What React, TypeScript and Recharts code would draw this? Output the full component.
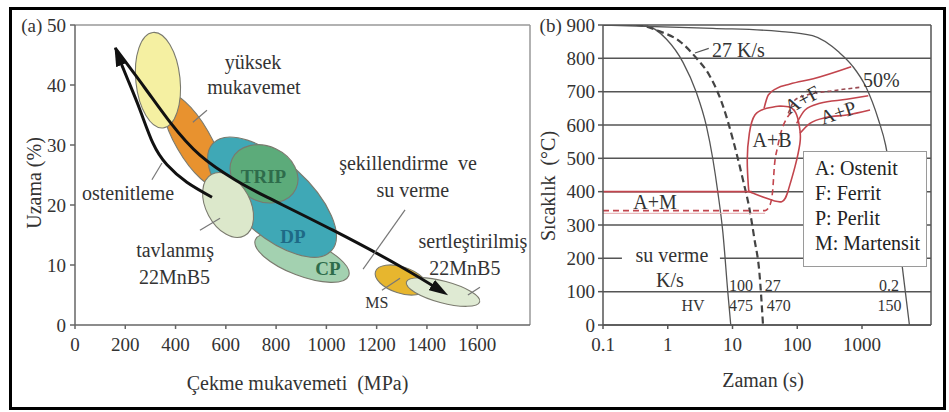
import React from 'react';
import {
  ComposedChart,
  XAxis,
  YAxis,
  Line,
  Scatter,
  ReferenceLine,
  CartesianGrid,
  Legend,
} from 'recharts';

const FONT = '"Liberation Serif", "Times New Roman", serif';
const H = 412;

// ---------- panel (a): elongation vs tensile strength ----------
const strengthTicks = [0, 200, 400, 600, 800, 1000, 1200, 1400, 1600];
const elongationTicks = [0, 10, 20, 30, 40, 50];
const A_X_MAX = 1810;

// steel families: centre (MPa, %), half spread (MPa, %), tilt in degrees
const steelFamilies = [
  { id: 'hsla', x: 469, y: 30.8, dx: 70, dy: 8.8, tilt: -30 },
  { id: 'mild', x: 330, y: 40.8, dx: 88, dy: 8.0, tilt: -6 },
  { id: 'cp', x: 903, y: 11.2, dx: 199, dy: 3.0, tilt: 21 },
  { id: 'dp', x: 784, y: 21.3, dx: 318, dy: 6.1, tilt: 42 },
  { id: 'trip', x: 752, y: 25.2, dx: 140, dy: 4.6, tilt: 25 },
  { id: 'annealed', x: 609, y: 20.0, dx: 88, dy: 5.8, tilt: -28 },
  { id: 'ms', x: 1297, y: 7.5, dx: 107, dy: 2.2, tilt: 18 },
  { id: 'hardened', x: 1464, y: 5.5, dx: 151, dy: 1.8, tilt: 15 },
];

// şekillendirme ve su verme
const formingPath = [
  { x: 159, y: 46.2 },
  { x: 278, y: 39.5 },
  { x: 378, y: 33.8 },
  { x: 497, y: 28.3 },
  { x: 636, y: 24.2 },
  { x: 764, y: 21.3 },
  { x: 1026, y: 15.8 },
  { x: 1293, y: 9.8 },
  { x: 1460, y: 5.6 },
];

// ostenitleme
const austenitizingPath = [
  { x: 545, y: 21.3 },
  { x: 445, y: 23.8 },
  { x: 366, y: 26.7 },
  { x: 310, y: 30.3 },
  { x: 259, y: 35.8 },
  { x: 211, y: 40.8 },
  { x: 168, y: 45.2 },
];

const leadersA = [
  [{ x: 469, y: 33.8 }, { x: 525, y: 35.8 }],
  [{ x: 306, y: 24.2 }, { x: 346, y: 27.0 }],
  [{ x: 497, y: 15.8 }, { x: 577, y: 17.8 }],
  [{ x: 1146, y: 9.3 }, { x: 1313, y: 19.2 }],
  [{ x: 1221, y: 5.8 }, { x: 1293, y: 7.8 }],
  [{ x: 1563, y: 5.0 }, { x: 1611, y: 6.3 }],
];

const labelsA = [
  { x: 708, y: 43.8, text: 'yüksek', kind: 'plain' },
  { x: 712, y: 39.7, text: 'mukavemet', kind: 'plain' },
  { x: 211, y: 22.0, text: 'ostenitleme', kind: 'plain' },
  { x: 750, y: 24.7, text: 'TRIP', kind: 'trip' },
  { x: 867, y: 14.7, text: 'DP', kind: 'dp' },
  { x: 1006, y: 9.5, text: 'CP', kind: 'cp' },
  { x: 398, y: 12.5, text: 'tavlanmış', kind: 'plain' },
  { x: 396, y: 8.0, text: '22MnB5', kind: 'plain' },
  { x: 1325, y: 27.0, text: 'şekillendirme  ve', kind: 'plain' },
  { x: 1344, y: 22.5, text: 'su verme', kind: 'plain' },
  { x: 1201, y: 3.7, text: 'MS', kind: 'small' },
  { x: 1583, y: 14.0, text: 'sertleştirilmiş', kind: 'plain' },
  { x: 1551, y: 9.5, text: '22MnB5', kind: 'plain' },
];

// ---------- panel (b): CCT diagram ----------
const timeTicks = [0.1, 1, 10, 100, 1000];
const tempTicks = [0, 100, 200, 300, 400, 500, 600, 700, 800, 900];
const B_X_MAX = 11630;

const cool100 = [
  { t: 0.1, temp: 900 }, { t: 0.23, temp: 900 }, { t: 0.47, temp: 897 },
  { t: 0.95, temp: 858 }, { t: 1.72, temp: 788 }, { t: 2.76, temp: 698 },
  { t: 3.94, temp: 598 }, { t: 4.97, temp: 498 }, { t: 5.94, temp: 398 },
  { t: 7.1, temp: 278 }, { t: 8.47, temp: 98 }, { t: 9.4, temp: 0 },
];
const cool27 = [
  { t: 0.1, temp: 900 }, { t: 0.33, temp: 900 }, { t: 0.75, temp: 881 },
  { t: 1.53, temp: 851 }, { t: 2.76, temp: 801 }, { t: 4.43, temp: 748 },
  { t: 7.1, temp: 658 }, { t: 10.1, temp: 558 }, { t: 14.4, temp: 438 },
  { t: 18.3, temp: 348 }, { t: 21.8, temp: 258 }, { t: 26, temp: 158 },
  { t: 29.6, temp: 0 },
];
const cool02 = [
  { t: 0.1, temp: 900 }, { t: 4.97, temp: 890 }, { t: 52.8, temp: 881 },
  { t: 172, temp: 868 }, { t: 443, temp: 818 }, { t: 720, temp: 776 },
  { t: 1137, temp: 716 }, { t: 1800, temp: 615 }, { t: 2313, temp: 540 },
  { t: 2930, temp: 418 }, { t: 3710, temp: 258 }, { t: 4500, temp: 125 },
  { t: 5400, temp: 0 },
];
const ferriteStart = [
  { t: 30.7, temp: 650 }, { t: 35.7, temp: 690 }, { t: 48.2, temp: 710 },
  { t: 77.3, temp: 723 }, { t: 177, temp: 739 }, { t: 680, temp: 775 },
];
const ferrite50 = [
  { t: 72.8, temp: 635 }, { t: 92.3, temp: 675 }, { t: 140, temp: 690 },
  { t: 361, temp: 703 }, { t: 931, temp: 713 },
];
const pearliteStart = [
  { t: 98, temp: 605 }, { t: 132, temp: 645 }, { t: 224, temp: 665 },
  { t: 581, temp: 677 }, { t: 1250, temp: 688 },
];
const pearliteEnd = [
  { t: 110, temp: 575 }, { t: 157, temp: 605 }, { t: 285, temp: 623 },
  { t: 581, temp: 630 }, { t: 1330, temp: 645 },
];
const bainiteLoop = [
  { t: 54.2, temp: 657 }, { t: 33.7, temp: 650 }, { t: 22.2, temp: 630 },
  { t: 18.2, temp: 575 }, { t: 16.9, temp: 495 }, { t: 17.6, temp: 415 },
  { t: 19.8, temp: 397 }, { t: 33.7, temp: 380 }, { t: 57.5, temp: 370 },
  { t: 72.8, temp: 405 }, { t: 92.3, temp: 475 }, { t: 110, temp: 545 },
  { t: 110, temp: 585 }, { t: 98, temp: 630 }, { t: 77.3, temp: 653 },
  { t: 54.2, temp: 657 },
];
const martensiteStart = [{ t: 0.1, temp: 400 }, { t: 19.8, temp: 400 }];
const martensite50 = [
  { t: 0.1, temp: 343 }, { t: 31.8, temp: 343 }, { t: 37.9, temp: 360 },
  { t: 41.8, temp: 405 }, { t: 44.3, temp: 475 }, { t: 49.9, temp: 535 },
  { t: 57.5, temp: 585 }, { t: 68.8, temp: 620 }, { t: 92.3, temp: 645 },
];
const martensiteLow = [{ t: 0.1, temp: 335 }, { t: 31.8, temp: 335 }];
const leader27 = [{ t: 2.63, temp: 816 }, { t: 4.3, temp: 830 }];

const labelsB = [
  { t: 4.82, temp: 825, text: '27 K/s', kind: 'plain', anchor: 'start' },
  { t: 1036, temp: 735, text: '50%', kind: 'plain', anchor: 'start' },
  { t: 118, temp: 677, text: 'A+F', kind: 'plain', angle: -28 },
  { t: 426, temp: 638, text: 'A+P', kind: 'plain', angle: -18 },
  { t: 40.7, temp: 555, text: 'A+B', kind: 'plain' },
  { t: 0.635, temp: 369, text: 'A+M', kind: 'plain' },
  { t: 1.16, temp: 210, text: 'su verme', kind: 'boxed' },
  { t: 1.08, temp: 135, text: 'K/s', kind: 'plain' },
  { t: 2.46, temp: 60, text: 'HV', kind: 'num' },
  { t: 13.5, temp: 120, text: '100', kind: 'num' },
  { t: 42, temp: 120, text: '27', kind: 'num' },
  { t: 2612, temp: 120, text: '0.2', kind: 'num' },
  { t: 13.5, temp: 60, text: '475', kind: 'num' },
  { t: 52, temp: 60, text: '470', kind: 'num' },
  { t: 2650, temp: 60, text: '150', kind: 'num' },
];

const phaseKey = ['A: Ostenit', 'F: Ferrit', 'P: Perlit', 'M: Martensit'];

// ---------- styles ----------
const FAMILY_FILL: Record<string, string> = {
  hsla: '#e8922f',
  mild: '#f5f0a2',
  cp: '#a3d1b0',
  dp: '#3fa8b6',
  trip: '#5cab7a',
  annealed: '#dce8cb',
  ms: '#e7b62e',
  hardened: '#dfead3',
};

const TEXT_STYLE: Record<string, { size: number; color: string; weight?: number }> = {
  plain: { size: 20, color: '#333' },
  trip: { size: 19, color: '#2e6c4b', weight: 700 },
  dp: { size: 19, color: '#1e6a86', weight: 700 },
  cp: { size: 19, color: '#2e6c4b', weight: 700 },
  small: { size: 16, color: '#333' },
  num: { size: 16, color: '#333' },
  boxed: { size: 20, color: '#333' },
};

const RED = '#c2454d';
const CURVE = '#555';

// plot geometry (px per data unit, panel a)
const A_PLOT_W = 455;
const A_PLOT_H = 300;
const A_PX_X = A_PLOT_W / A_X_MAX;
const A_PX_Y = A_PLOT_H / 50;

const EllipseShape = (p: any) => {
  const f = p.payload;
  if (p.cx == null || p.cy == null) return null;
  return (
    <ellipse
      cx={p.cx}
      cy={p.cy}
      rx={f.dx * A_PX_X}
      ry={f.dy * A_PX_Y}
      transform={`rotate(${f.tilt} ${p.cx} ${p.cy})`}
      fill={FAMILY_FILL[f.id]}
      stroke="#7a7a6e"
      strokeWidth={1.1}
    />
  );
};

const TextMark = (p: any) => {
  const d = p.payload;
  if (p.cx == null || p.cy == null) return null;
  const s = TEXT_STYLE[d.kind] || TEXT_STYLE.plain;
  return (
    <g>
      {d.kind === 'boxed' && (
        <rect x={p.cx - 50} y={p.cy - 12} width={98} height={24} fill="#fff" />
      )}
      <text
        x={p.cx}
        y={p.cy}
        textAnchor={d.anchor || 'middle'}
        dominantBaseline="central"
        fontFamily={FONT}
        fontSize={s.size}
        fontWeight={s.weight || 400}
        fill={s.color}
        style={{ whiteSpace: 'pre' }}
        transform={d.angle ? `rotate(${d.angle} ${p.cx} ${p.cy})` : undefined}
      >
        {d.text}
      </text>
    </g>
  );
};

const AxisTitle = (props: any) => {
  const { viewBox, text, dx = 0, dy = 0, vertical } = props;
  const vb = viewBox || { x: 0, y: 0, width: 0, height: 0 };
  const common = {
    fontFamily: FONT,
    fontSize: 20,
    fill: '#333',
    textAnchor: 'middle' as const,
    dominantBaseline: 'central' as const,
    style: { whiteSpace: 'pre' as const },
  };
  if (vertical) {
    const cx = vb.x + dx;
    const cy = vb.y + vb.height / 2 + dy;
    return (
      <text x={cx} y={cy} transform={`rotate(-90 ${cx} ${cy})`} {...common}>
        {text}
      </text>
    );
  }
  const cx = vb.x + vb.width / 2 + dx;
  const cy = vb.y + dy;
  return (
    <text x={cx} y={cy} {...common}>
      {text}
    </text>
  );
};

const PhaseKey = () => (
  <div
    style={{
      width: 124,
      height: 116,
      boxSizing: 'border-box',
      border: '1.5px solid #9a9a9a',
      background: '#fff',
      padding: '4px 0 0 11px',
      fontFamily: FONT,
      fontSize: 20,
      lineHeight: '25px',
      color: '#222',
      textAlign: 'left',
      whiteSpace: 'nowrap',
    }}
  >
    {phaseKey.map((k) => (
      <div key={k}>{k}</div>
    ))}
  </div>
);

const tickStyle = { fill: '#333', fontSize: 19, fontFamily: FONT };

const PanelA = () => (
  <ComposedChart width={545} height={H} margin={{ top: 25, right: 15, bottom: 47, left: 0 }}>
    <defs>
      <marker
        id="arrowHead"
        viewBox="0 0 16 10"
        refX="10"
        refY="5"
        markerWidth="6.4"
        markerHeight="4"
        orient="auto"
        markerUnits="strokeWidth"
      >
        <path d="M0,0 L16,5 L0,10 z" fill="#111" />
      </marker>
    </defs>
    <XAxis
      dataKey="x"
      type="number"
      domain={[0, A_X_MAX]}
      ticks={strengthTicks}
      allowDataOverflow
      height={40}
      tickSize={4}
      tickMargin={9}
      stroke="#666"
      strokeWidth={1.5}
      tick={tickStyle}
      label={<AxisTitle text="Çekme mukavemeti  (MPa)" dx={-5} dy={58} />}
    />
    <YAxis
      dataKey="y"
      type="number"
      domain={[0, 50]}
      ticks={elongationTicks}
      allowDataOverflow
      width={75}
      tickSize={5}
      tickMargin={4}
      stroke="#666"
      strokeWidth={1.5}
      tick={tickStyle}
      tickFormatter={(v: number) => (v === 50 ? '(a) 50' : String(v))}
      label={<AxisTitle text="Uzama (%)" vertical dx={34} dy={8} />}
    />
    <ReferenceLine y={50} stroke="#999" strokeWidth={1.5} ifOverflow="visible" />
    <ReferenceLine x={A_X_MAX} stroke="#999" strokeWidth={1.5} ifOverflow="visible" />
    <Scatter data={steelFamilies} shape={EllipseShape} isAnimationActive={false} zIndex={100} />
    <Line
      data={austenitizingPath}
      dataKey="y"
      type="natural"
      stroke="#111"
      strokeWidth={3}
      dot={false}
      activeDot={false}
      markerEnd="url(#arrowHead)"
      isAnimationActive={false}
      zIndex={450}
    />
    <Line
      data={formingPath}
      dataKey="y"
      type="natural"
      stroke="#111"
      strokeWidth={3}
      dot={false}
      activeDot={false}
      markerEnd="url(#arrowHead)"
      isAnimationActive={false}
      zIndex={450}
    />
    {leadersA.map((seg, i) => (
      <Line
        key={`leader-${i}`}
        data={seg}
        dataKey="y"
        type="linear"
        stroke="#777"
        strokeWidth={1.2}
        dot={false}
        activeDot={false}
        isAnimationActive={false}
        zIndex={460}
      />
    ))}
    <Scatter data={labelsA} shape={TextMark} isAnimationActive={false} zIndex={700} />
  </ComposedChart>
);

const redLine = (data: any[], key: string, dash?: string, type: any = 'monotone', color = RED, width = 1.6) => (
  <Line
    key={key}
    data={data}
    dataKey="temp"
    type={type}
    stroke={color}
    strokeWidth={width}
    strokeDasharray={dash}
    dot={false}
    activeDot={false}
    isAnimationActive={false}
    zIndex={420}
  />
);

const PanelB = () => (
  <ComposedChart width={413} height={H} margin={{ top: 25, right: 18, bottom: 47, left: 0 }}>
    <CartesianGrid vertical={false} stroke="#555" strokeWidth={1.5} />
    <XAxis
      dataKey="t"
      type="number"
      scale="log"
      domain={[0.1, B_X_MAX]}
      ticks={timeTicks}
      allowDataOverflow
      height={40}
      tickSize={4}
      tickMargin={9}
      stroke="#555"
      strokeWidth={1.5}
      tick={tickStyle}
      tickFormatter={(v: number) => String(v)}
      label={<AxisTitle text="Zaman (s)" dx={-4} dy={55} />}
    />
    <YAxis
      dataKey="temp"
      type="number"
      domain={[0, 900]}
      ticks={tempTicks}
      allowDataOverflow
      width={67}
      tickSize={5}
      tickMargin={3}
      stroke="#555"
      strokeWidth={1.5}
      tick={tickStyle}
      tickFormatter={(v: number) => (v === 900 ? '(b) 900' : String(v))}
      label={<AxisTitle text="Sıcaklık  (°C)" vertical dx={12} dy={11} />}
    />
    <ReferenceLine x={B_X_MAX} stroke="#555" strokeWidth={1.5} ifOverflow="visible" />
    <Line data={cool100} dataKey="temp" type="monotone" stroke={CURVE} strokeWidth={1.3} dot={false} activeDot={false} isAnimationActive={false} zIndex={400} />
    <Line data={cool27} dataKey="temp" type="monotone" stroke="#444" strokeWidth={2.2} strokeDasharray="7 4" dot={false} activeDot={false} isAnimationActive={false} zIndex={400} />
    <Line data={cool02} dataKey="temp" type="monotone" stroke={CURVE} strokeWidth={1.3} dot={false} activeDot={false} isAnimationActive={false} zIndex={400} />
    <Line data={leader27} dataKey="temp" type="linear" stroke="#555" strokeWidth={1.2} dot={false} activeDot={false} isAnimationActive={false} zIndex={400} />
    {redLine(martensiteLow, 'mlow', undefined, 'linear', '#e3a9ad', 1)}
    {redLine(ferriteStart, 'fs')}
    {redLine(ferrite50, 'f50', '4 3', 'monotone', '#9a4a52')}
    {redLine(pearliteStart, 'ps')}
    {redLine(pearliteEnd, 'pe')}
    {redLine(bainiteLoop, 'bl', undefined, 'natural')}
    {redLine(martensiteStart, 'ms', undefined, 'linear')}
    {redLine(martensite50, 'm50', '6 4')}
    <Scatter data={labelsB} shape={TextMark} isAnimationActive={false} zIndex={700} />
    <Legend
      content={PhaseKey}
      layout="horizontal"
      verticalAlign="middle"
      align="center"
      wrapperStyle={{ left: 267, top: 151, width: 124, height: 116 }}
    />
  </ComposedChart>
);

export default function App() {
  return (
    <div style={{ position: 'relative', width: 949, height: H, background: '#fff', overflow: 'hidden' }}>
      <style>{'body{margin:0;}'}</style>
      <div style={{ position: 'absolute', left: 0, top: 0 }}>
        <PanelA />
      </div>
      <div style={{ position: 'absolute', left: 536, top: 0 }}>
        <PanelB />
      </div>
      <div
        style={{
          position: 'absolute',
          left: 9,
          top: 7,
          width: 937,
          height: 403,
          boxSizing: 'border-box',
          border: '3.5px solid #000',
          pointerEvents: 'none',
        }}
      />
    </div>
  );
}
